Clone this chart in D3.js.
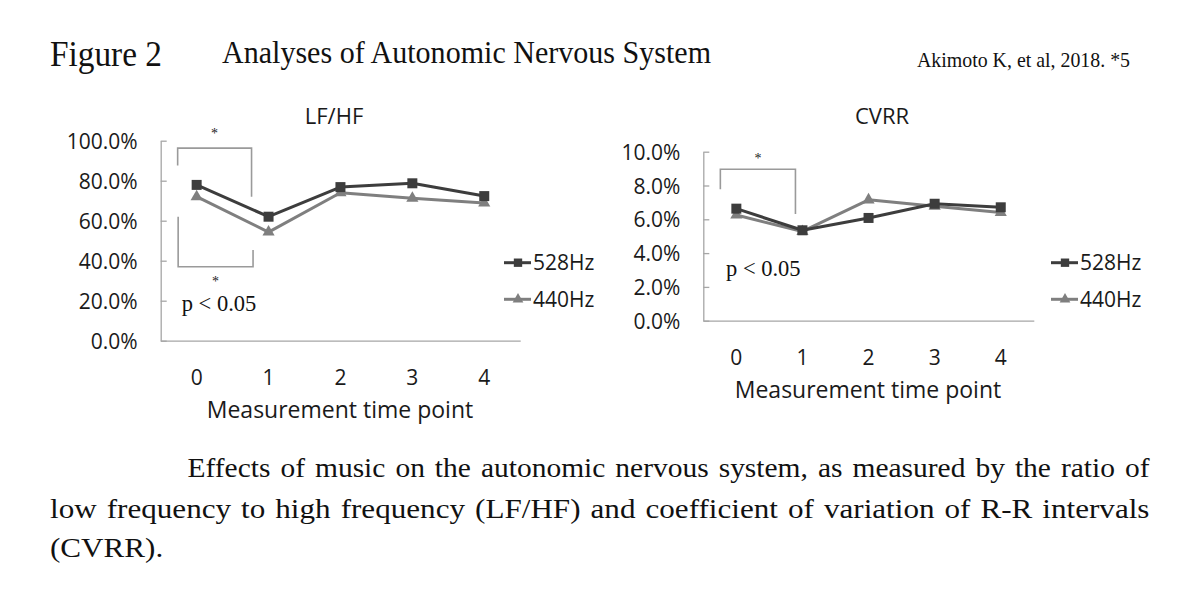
<!DOCTYPE html>
<html>
<head>
<meta charset="utf-8">
<script src="https://cdn.jsdelivr.net/npm/d3@7"></script>
<style>
  html, body { margin: 0; padding: 0; background: #fff; }
  svg { display: block; }
</style>
</head>
<body>
<svg id="chart" width="1200" height="603"></svg>
<script>
// ---------------- data ----------------
const categories = ["0", "1", "2", "3", "4"];
const seriesNames = ["528Hz", "440Hz"];
const lfhf528 = [77.9, 62.0, 76.8, 78.7, 72.3];
const lfhf440 = [72.0, 54.3, 74.0, 71.2, 68.9];
const cvrr528 = [6.63, 5.35, 6.08, 6.92, 6.71];
const cvrr440 = [6.25, 5.28, 7.15, 6.77, 6.40];
const lfhfTicks = [0, 20, 40, 60, 80, 100];
const cvrrTicks = [0, 2, 4, 6, 8, 10];
const figureLabel = "Figure 2";
const figureTitle = "Analyses of Autonomic Nervous System";
const citation = "Akimoto K, et al, 2018. *5";
const captionLines = [
  "Effects of music on the autonomic nervous system, as measured by the ratio of",
  "low frequency to high frequency (LF/HF) and coefficient of variation of R-R intervals",
  "(CVRR)."
];
const pText = "p < 0.05";
const xTitle = "Measurement time point";

// ---------------- drawing ----------------
const svg = d3.select("#chart");
const SANS = "'Open Sans', 'Noto Sans', sans-serif";
const SERIF = "'Liberation Serif', 'DejaVu Serif', serif";
const AXIS = "#a6a6a6";
const DARK = "#3d3d3d";
const GRAY = "#7f7f7f";

// header
svg.append("text").attr("x", 50).attr("y", 66).attr("font-family", SERIF)
  .attr("font-size", 35).attr("textLength", 112).attr("lengthAdjust", "spacingAndGlyphs")
  .attr("fill", "#111").text(figureLabel);
svg.append("text").attr("x", 222).attr("y", 63).attr("font-family", SERIF)
  .attr("font-size", 32).attr("textLength", 489).attr("lengthAdjust", "spacingAndGlyphs")
  .attr("fill", "#111").text(figureTitle);
svg.append("text").attr("x", 917).attr("y", 67).attr("font-family", SERIF)
  .attr("font-size", 22).attr("textLength", 213).attr("lengthAdjust", "spacingAndGlyphs")
  .attr("fill", "#111").text(citation);

function drawChart(cfg) {
  const g = svg.append("g");
  const x = d3.scaleBand().domain(categories).range(cfg.xRange);
  const y = d3.scaleLinear().domain(cfg.yDomain).range(cfg.yRange);
  const cx = c => x(c) + x.bandwidth() / 2;

  // y axis
  const ya = g.append("g").attr("transform", `translate(${cfg.xRange[0]},0)`)
    .call(d3.axisLeft(y).tickValues(cfg.ticks).tickFormat(d => d.toFixed(1) + "%")
      .tickSizeInner(-6).tickSizeOuter(0).tickPadding(23));
  ya.select(".domain").attr("stroke", AXIS).attr("stroke-width", 1.3);
  ya.selectAll(".tick line").attr("stroke", AXIS).attr("stroke-width", 1.3);
  ya.selectAll(".tick text").attr("font-family", SANS).attr("font-size", 21)
    .attr("fill", "#1a1a1a").attr("dy", "0.36em");

  // x axis
  const xa = g.append("g").attr("transform", `translate(0,${cfg.yRange[0]})`)
    .call(d3.axisBottom(x).tickSize(0).tickPadding(29));
  xa.select(".domain").attr("stroke", AXIS).attr("stroke-width", 1.3);
  xa.selectAll(".tick text").attr("font-family", SANS).attr("font-size", 21).attr("fill", "#1a1a1a");

  // titles
  g.append("text").attr("x", cfg.titleX).attr("y", 124).attr("text-anchor", "middle")
    .attr("font-family", SANS).attr("font-size", 22).attr("fill", "#1a1a1a").text(cfg.title);
  g.append("text").attr("x", cfg.xTitleX).attr("y", cfg.yRange[0] + 77.5).attr("text-anchor", "middle")
    .attr("font-family", SANS).attr("font-size", 23).attr("fill", "#1a1a1a").text(xTitle);

  // significance brackets
  cfg.brackets.forEach(b => {
    const xl = cx(b.from) + b.dxl, xr = cx(b.to) + b.dxr;
    g.append("path")
      .attr("d", `M${xl},${y(b.yl)} L${xl},${y(b.yBar)} L${xr},${y(b.yBar)} L${xr},${y(b.yr)}`)
      .attr("fill", "none").attr("stroke", "#9a9a9a").attr("stroke-width", 1.6);
    g.append("text").attr("x", (xl + xr) / 2).attr("y", y(b.yBar) + b.starDy)
      .attr("text-anchor", "middle").attr("font-family", SERIF).attr("font-size", 14)
      .attr("fill", "#222").text("*");
  });
  g.append("text").attr("x", cfg.pX).attr("y", cfg.pY).attr("font-family", SERIF)
    .attr("font-size", 22.5).attr("fill", "#111").text(pText);

  // series
  const series = [
    { name: seriesNames[0], vals: cfg.s528, color: DARK, sym: d3.symbolSquare, size: 100, lsize: 70 },
    { name: seriesNames[1], vals: cfg.s440, color: GRAY, sym: d3.symbolTriangle, size: 64, lsize: 50 }
  ];
  const order = [series[1], series[0]];
  order.forEach(s => {
    const line = d3.line().x((d, i) => cx(categories[i])).y(d => y(d));
    g.append("path").attr("d", line(s.vals)).attr("fill", "none")
      .attr("stroke", s.color).attr("stroke-width", 3).attr("stroke-linejoin", "round");
  });
  order.forEach(s => {
    g.selectAll(null).data(s.vals).enter().append("path")
      .attr("d", d3.symbol().type(s.sym).size(s.size))
      .attr("transform", (d, i) => `translate(${cx(categories[i])},${y(d)})`)
      .attr("fill", s.color);
  });

  // legend
  series.forEach((s, i) => {
    const ly = cfg.legendY[i];
    g.append("line").attr("x1", cfg.legendX).attr("x2", cfg.legendX + 27)
      .attr("y1", ly).attr("y2", ly).attr("stroke", s.color).attr("stroke-width", 3);
    g.append("path").attr("d", d3.symbol().type(s.sym).size(s.lsize)())
      .attr("transform", `translate(${cfg.legendX + 14},${ly})`).attr("fill", s.color);
    g.append("text").attr("x", cfg.legendX + 29).attr("y", ly).attr("dy", "0.36em")
      .attr("font-family", SANS).attr("font-size", 21).attr("fill", "#1a1a1a").text(s.name);
  });
}

drawChart({
  title: "LF/HF", titleX: 334, xTitleX: 340,
  xRange: [160.7, 520.2], yRange: [340.7, 140.7], yDomain: [0, 100], ticks: lfhfTicks,
  s528: lfhf528, s440: lfhf440,
  brackets: [
    { from: "0", to: "1", dxl: -19, dxr: -17, yl: 87.6, yBar: 96.3, yr: 72.0, starDy: -10 },
    { from: "0", to: "1", dxl: -18.5, dxr: -15.5, yl: 62.0, yBar: 37.0, yr: 45.3, starDy: 19 }
  ],
  pX: 181.7, pY: 310.5,
  legendX: 504, legendY: [262.7, 299.3]
});

drawChart({
  title: "CVRR", titleX: 882, xTitleX: 868,
  xRange: [703.3, 1033.8], yRange: [320.7, 151.7], yDomain: [0, 10], ticks: cvrrTicks,
  s528: cvrr528, s440: cvrr440,
  brackets: [
    { from: "0", to: "1", dxl: -16, dxr: -7, yl: 7.78, yBar: 8.96, yr: 6.31, starDy: -6 }
  ],
  pX: 726, pY: 275.5,
  legendX: 1051, legendY: [262.7, 299.3]
});

// caption: words stretched horizontally, lines justified
const capFont = 27, capGap = 10;
function makeWords(text, yb) {
  const words = text.split(" ");
  const nodes = words.map(w => svg.append("text").attr("y", yb).attr("font-family", SERIF)
    .attr("font-size", capFont).attr("fill", "#111").text(w));
  const widths = nodes.map(n => n.node().getComputedTextLength());
  return { nodes, widths };
}
function layLine(line, x0, x1, k, justify) {
  const scaled = line.widths.map(w => w * k);
  const total = d3.sum(scaled);
  const gap = justify && line.nodes.length > 1 ? (x1 - x0 - total) / (line.nodes.length - 1) : capGap;
  let cx = x0;
  line.nodes.forEach((n, i) => {
    n.attr("x", cx).attr("textLength", scaled[i]).attr("lengthAdjust", "spacingAndGlyphs");
    cx += scaled[i] + gap;
  });
}
const l1 = makeWords(captionLines[0], 477);
const l2 = makeWords(captionLines[1], 518);
const l3 = makeWords(captionLines[2], 557);
const k2 = (1149.5 - 50 - capGap * (l2.nodes.length - 1)) / d3.sum(l2.widths);
const k1 = (1149.5 - 187.5 - capGap * (l1.nodes.length - 1)) / d3.sum(l1.widths);
layLine(l1, 187.5, 1149.5, Math.min(k1, k2), true);
layLine(l2, 50, 1149.5, k2, true);
layLine(l3, 50, 1149.5, k2, false);
</script>
</body>
</html>
